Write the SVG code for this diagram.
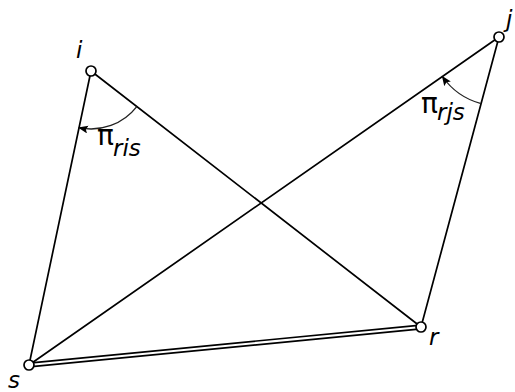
<svg xmlns="http://www.w3.org/2000/svg" width="515" height="392" viewBox="0 0 515 392">
<style>
.edge{stroke:#000;stroke-width:1.7;fill:none;stroke-linecap:round}
.arc{stroke:#222;stroke-width:1.3;fill:none}
.node{fill:#fff;stroke:#000;stroke-width:1.7}
.lbl{font-family:"DejaVu Sans",sans-serif;font-style:italic;font-size:23px;fill:#000}
.pi{font-family:"DejaVu Sans",sans-serif;font-size:28px;fill:#000}
</style>
<defs>
<marker id="arr" markerUnits="userSpaceOnUse" markerWidth="12" markerHeight="10" refX="9" refY="4" orient="auto">
<path d="M0,0 L10,4 L0,8 L2,4 Z" fill="#000"/>
</marker>
</defs>
<rect width="515" height="392" fill="#fff"/>
<g id="connectors">
<line class="edge" x1="91" y1="71" x2="29" y2="365"/>
<line class="edge" x1="91" y1="71" x2="421" y2="327"/>
<line class="edge" x1="499" y1="37" x2="29" y2="365"/>
<line class="edge" x1="499" y1="37" x2="421" y2="327"/>
<line x1="29" y1="365" x2="421" y2="327" stroke="#000" stroke-width="5.5"/>
<line x1="29" y1="365" x2="421" y2="327" stroke="#fff" stroke-width="2.2"/>
<path class="arc" d="M136.8,106.6 A58,58 0 0 1 79,127.7" marker-end="url(#arr)"/>
<path class="arc" d="M481.1,103.6 A69,69 0 0 1 442.4,76.5" marker-end="url(#arr)"/>
</g>
<g id="angle-ris">
<text class="pi" x="97" y="145">π</text>
<text class="lbl" x="113" y="156">ris</text>
</g>
<g id="angle-rjs">
<text class="pi" x="421" y="113">π</text>
<text class="lbl" x="437" y="120">rjs</text>
</g>
<g id="node-i">
<circle class="node" cx="91" cy="71" r="5"/>
<text class="lbl" x="76" y="58">i</text>
</g>
<g id="node-j">
<circle class="node" cx="499" cy="37" r="5"/>
<text class="lbl" x="506" y="27">j</text>
</g>
<g id="node-s">
<circle class="node" cx="29" cy="365" r="5"/>
<text class="lbl" x="8" y="388">s</text>
</g>
<g id="node-r">
<circle class="node" cx="421" cy="327" r="5"/>
<text class="lbl" x="429" y="345">r</text>
</g>
</svg>
